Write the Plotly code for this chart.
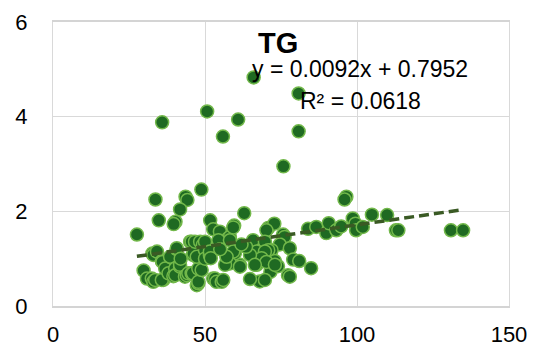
import plotly.graph_objects as go

# Data (x, y)
x_vals = [66.0, 80.8, 80.8, 75.8, 35.9, 50.7, 55.9, 60.9,
          96.5, 95.9,
          33.7, 43.6, 44.2, 48.8, 41.8, 40.3, 39.7, 34.8, 27.6,
          51.7, 52.7, 59.6, 62.9, 54.9,
          70.8, 72.8, 75.7, 76.2, 74.6, 77.9, 83.9, 86.6, 89.9, 90.7, 93.2, 94.8,
          98.6, 99.5, 99.7, 101.9, 104.9, 109.9, 112.8, 113.6, 130.9, 134.9, 70.2,
          65.8, 69.7, 71.9, 70.8, 67.0, 69.7, 73.0, 79.0, 81.0, 84.9, 71.5, 77.3,
          77.9, 68.0, 69.7, 64.8, 67.0, 68.6, 70.2, 74.0, 73.0, 64.8, 66.4, 61.5,
          59.8, 57.1, 58.2, 57.6, 58.2, 59.3, 54.4, 58.2, 59.3, 61.5,
          29.8, 30.9, 32.5, 33.0, 33.6, 32.7, 33.0, 34.2, 35.8, 36.0, 36.3, 35.8,
          36.9, 38.0, 38.5, 39.6, 40.2, 40.2, 40.7, 40.7, 41.8, 41.8, 43.4, 44.0,
          44.5, 45.6, 45.1, 45.6, 46.0, 46.2, 46.7, 46.0, 47.3, 47.8, 47.8, 47.8,
          47.3, 48.4, 48.9, 49.3, 50.0, 50.0, 50.0, 51.6, 51.6, 51.9, 52.7, 53.3,
          53.8, 55.5, 56.0, 56.6, 57.1, 42.0, 63.5, 55.0, 62.0]
y_vals = [4.83, 4.49, 3.69, 2.95, 3.88, 4.11, 3.58, 3.94,
          2.31, 2.25,
          2.25, 2.31, 2.24, 2.46, 2.04, 1.78, 1.73, 1.81, 1.51,
          1.81, 1.62, 1.70, 1.96, 1.57,
          1.65, 1.74, 1.51, 1.46, 1.30, 1.22, 1.63, 1.67, 1.54, 1.75, 1.60, 1.68,
          1.85, 1.74, 1.60, 1.67, 1.93, 1.92, 1.60, 1.60, 1.60, 1.60, 1.60,
          1.39, 1.36, 1.18, 1.18, 1.15, 1.15, 0.95, 0.98, 0.95, 0.80, 0.72, 0.65,
          0.62, 0.52, 0.55, 0.57, 0.87, 1.01, 0.93, 0.84, 0.87, 1.08, 0.87, 0.87,
          1.11, 1.04, 0.90, 1.43, 1.46, 1.66, 1.39, 1.39, 1.15, 0.83,
          0.75, 0.58, 0.58, 0.51, 0.55, 1.11, 1.08, 1.15, 0.95, 0.93, 0.55, 0.55,
          0.79, 0.69, 1.04, 0.63, 0.79, 0.65, 1.20, 1.22, 0.83, 0.87, 0.62, 0.65,
          0.69, 0.69, 1.36, 1.36, 1.08, 1.11, 1.36, 0.69, 0.44, 0.48, 0.51, 0.79,
          1.04, 1.36, 0.76, 1.29, 1.18, 1.36, 1.00, 1.08, 1.15, 1.01, 0.58, 0.58,
          0.51, 0.51, 0.55, 0.87, 1.04, 1.00, 1.25, 1.20, 1.30]

# Trendline coefficients as displayed
slope = 0.0092
intercept = 0.7952
r_squared = 0.0618

x_ticks = [0, 50, 100, 150]
y_ticks = [0, 2, 4, 6]
chart_title = "TG"

x_lo, x_hi = min(x_vals), max(x_vals)

fig = go.Figure()
fig.add_trace(go.Scatter(
    x=x_vals, y=y_vals, mode="markers",
    marker=dict(size=13, color="#1f6a22", line=dict(color="#72b84a", width=1.5)),
    showlegend=False, hoverinfo="skip", cliponaxis=False))
fig.add_trace(go.Scatter(
    x=[x_lo, x_hi], y=[slope * x_lo + intercept, slope * x_hi + intercept],
    mode="lines", line=dict(color="#3a5a24", width=3.5, dash="10px,5px"),
    showlegend=False, hoverinfo="skip"))

L, R, T, B = 52.5, 27.5, 21.5, 45
W, H = 537, 351
pw, ph = W - L - R, H - T - B

def px(xp):
    return (xp - L) / pw

def py(yp):
    return (H - B - yp) / ph

font_family = "Liberation Sans, Arial, sans-serif"

fig.update_layout(
    width=W, height=H,
    margin=dict(l=L, r=R, t=T, b=B, autoexpand=False),
    paper_bgcolor="white", plot_bgcolor="white",
    font=dict(family=font_family, color="black"),
    xaxis=dict(range=[0, 150], tickvals=x_ticks, ticktext=[str(v) for v in x_ticks],
               showgrid=True, gridcolor="#d9d9d9", gridwidth=1,
               showline=True, linecolor="#d4d4d4", linewidth=1.5, mirror=True,
               zeroline=False, ticks="", tickfont=dict(size=22, color="black"),
               ticklabelstandoff=8, automargin=False),
    yaxis=dict(range=[0, 6], tickvals=y_ticks, ticktext=[str(v) for v in y_ticks],
               showgrid=True, gridcolor="#d9d9d9", gridwidth=1,
               showline=True, linecolor="#d9d9d9", linewidth=1, mirror=True,
               zeroline=False, ticks="", tickfont=dict(size=22, color="black"),
               ticklabelstandoff=20, automargin=False),
    annotations=[
        dict(text="<b>" + chart_title + "</b>", x=px(277.5), y=py(43), xref="paper", yref="paper",
             showarrow=False, xanchor="center", yanchor="middle",
             font=dict(size=29, color="black", family=font_family)),
        dict(text=f"y = {slope}x + {intercept}", x=px(360), y=py(69), xref="paper", yref="paper",
             showarrow=False, xanchor="center", yanchor="middle",
             font=dict(size=23, color="black", family=font_family)),
        dict(text=f"R² = {r_squared}", x=px(361), y=py(101), xref="paper", yref="paper",
             showarrow=False, xanchor="center", yanchor="middle",
             font=dict(size=23, color="black", family=font_family)),
    ],
)

fig.write_html("out.html")
